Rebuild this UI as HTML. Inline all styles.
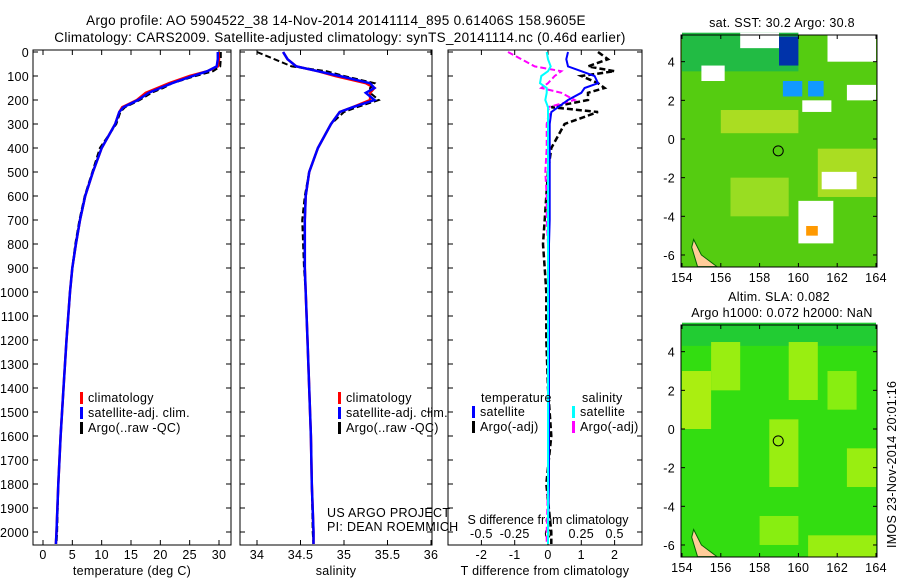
<!DOCTYPE html>
<html><head><meta charset="utf-8"><style>
body{margin:0;background:#fff;}
svg{display:block;font-family:"Liberation Sans",sans-serif;}
text{font-size:12.5px;letter-spacing:0.3px;fill:#000;}
text.ttl{font-size:13.5px;letter-spacing:0.3px;}
</style></head><body>
<svg id="fig" width="900" height="580" viewBox="0 0 900 580">
<text class="ttl" x="336" y="25" text-anchor="middle">Argo profile: AO 5904522_38 14-Nov-2014 20141114_895 0.61406S 158.9605E</text>
<text class="ttl" x="340" y="42" text-anchor="middle">Climatology: CARS2009. Satellite-adjusted climatology: synTS_20141114.nc (0.46d earlier)</text>
<g id="p1"></g>
<g id="p2"></g>
<g id="p3"></g>
<g id="m1"></g>
<g id="m2"></g>
<text x="779" y="301" text-anchor="middle">Altim. SLA: 0.082</text>
<text x="782" y="317" text-anchor="middle">Argo h1000: 0.072 h2000: NaN</text>
<text x="782" y="27" text-anchor="middle">sat. SST: 30.2 Argo: 30.8</text>
<text transform="translate(896,548) rotate(-90)">IMOS 23-Nov-2014 20:01:16</text>
</svg>
<script>
// ---- data ----
const depths = [0,30,60,80,100,130,150,170,200,230,250,300,400,500,600,700,800,900,1000,1200,1400,1600,1800,2000,2050];
const tempClim = [30,30,29.8,28,25,21.5,19.5,17.5,16,13.5,13,12.3,10,8.5,7.2,6.3,5.6,5.0,4.6,4.0,3.5,3.0,2.6,2.3,2.2];
const tempSat  = [29.8,29.8,29.6,28,25.5,22,20,18,16.2,13.7,13,12.3,10,8.5,7.2,6.3,5.6,5.0,4.6,4.0,3.5,3.0,2.6,2.3,2.2];
const tempArgo = [30.3,30.3,30.2,29,26,22,20.5,18.5,16.5,14,13.2,12.5,9.7,8.4,7.1,6.2,5.5,5.0,4.6,4.0,3.5,3.0,2.6,2.4,2.3];
const salClim  = [34.3,34.35,34.45,34.7,34.9,35.25,35.35,35.3,35.3,35.1,34.95,34.85,34.7,34.6,34.56,34.55,34.55,34.55,34.56,34.58,34.6,34.62,34.63,34.65,34.65];
const salSat   = [34.3,34.35,34.45,34.7,34.95,35.3,35.35,35.25,35.35,35.1,34.95,34.85,34.7,34.6,34.56,34.55,34.55,34.55,34.56,34.58,34.6,34.62,34.63,34.65,34.65];
const salArgo  = [34.0,34.2,34.4,34.8,35.0,35.35,35.3,35.3,35.4,35.15,35.0,34.85,34.7,34.6,34.55,34.52,34.53,34.54,34.56,34.58,34.6,34.62,34.63,34.64,34.65];
const tDiffSat  = [0.6,0.55,0.6,1.0,1.4,1.5,1.1,1.0,0.6,0.3,0.1,0.05,0.05,0.05,0.05,0.05,0.03,0.03,0.03,0.03,0.03,0.03,0.03,0.0,0.0];
const tDiffArgo = [1.5,1.8,1.2,2.0,1.0,1.5,1.7,1.2,1.2,0.1,1.5,0.5,0.1,0.0,-0.05,-0.1,-0.15,-0.1,-0.05,-0.05,0.0,0.1,-0.05,0.1,0.1];
const sDiffSat  = [-0.01,0.0,0.02,0.0,-0.05,-0.06,-0.01,-0.01,-0.02,0.0,0.0,0.0,0.0,0.0,0.0,0.0,0.0,0.0,0.0,0.0,0.0,0.0,0.0,0.0,0.0];
const sDiffArgo = [-0.3,-0.2,-0.1,0.1,0.05,0.0,-0.05,0.1,0.2,0.0,0.01,-0.01,-0.01,-0.02,-0.01,-0.01,0.0,0.0,0.0,0.0,0.0,0.0,0.0,-0.01,-0.01];
const depthTicks = [0,100,200,300,400,500,600,700,800,900,1000,1100,1200,1300,1400,1500,1600,1700,1800,1900,2000];
const tempTicks = [0,5,10,15,20,25,30];
const salTicks = [34,34.5,35,35.5,36];
const tdTicks = [-2,-1,0,1,2];
const sdTicks = [-0.5,-0.25,0,0.25,0.5];
const lonTicks = [154,156,158,160,162,164];
const latTicks = [4,2,0,-2,-4,-6];
const floatPos = [158.96,-0.614];

const NS='http://www.w3.org/2000/svg';
function mk(p,tag,at){const e=document.createElementNS(NS,tag);for(const k in at)e.setAttribute(k,at[k]);p.appendChild(e);return e;}
const yD = d => 52 + d*0.24;
const TOP=50,BOT=545;

function panel(g,x0,x1,xs,ticks,fmt,label,showY){
  const r=mk(g,'rect',{x:x0,y:TOP,width:x1-x0,height:BOT-TOP,fill:'none',stroke:'#000'});
  
  ticks.forEach(t=>{const x=xs(t);
    mk(g,'line',{x1:x,x2:x,y1:BOT,y2:BOT-5,stroke:'#000'});mk(g,'line',{x1:x,x2:x,y1:TOP,y2:TOP+5,stroke:'#000'});
    if(fmt){const tx=mk(g,'text',{x:x,y:BOT+14,'text-anchor':'middle'});tx.textContent=fmt(t);
    }});
  depthTicks.forEach(d=>{mk(g,'line',{x1:x0,x2:x0+5,y1:yD(d),y2:yD(d),stroke:'#000'});mk(g,'line',{x1:x1,x2:x1-5,y1:yD(d),y2:yD(d),stroke:'#000'});
    if(showY){const tx=mk(g,'text',{x:x0-4,y:yD(d)+5,'text-anchor':'end'});tx.textContent=d;
    }});
  const lb=mk(g,'text',{x:(x0+x1)/2,y:575,'text-anchor':'middle'});lb.textContent=label;
  
}
function line(g,vals,xs,col,dash,w,name){
  const pts=vals.map((v,i)=>xs(v).toFixed(1)+','+yD(depths[i]).toFixed(1)).join(' ');
  const e=mk(g,'polyline',{points:pts,fill:'none',stroke:col,'stroke-width':w});
  if(dash)e.setAttribute('stroke-dasharray',dash);
  
}
function legend(g,x,y,items){
  items.forEach((it,i)=>{const yy=y+i*15;
    mk(g,'rect',{x:x,y:yy-10,width:3,height:12,fill:it[1]});
    const t=mk(g,'text',{x:x+8,y:yy});t.textContent=it[0];
    });
}
// panel 1
const p1=document.getElementById('p1');const xT=t=>43+t*176/30;
panel(p1,33,231,xT,tempTicks,t=>t,'temperature (deg C)',true);
line(p1,tempClim,xT,'#f00',null,2.5,'temp-climatology-line');
line(p1,tempArgo,xT,'#000','6,3',2,'temp-argo-line');
line(p1,tempSat,xT,'#00f',null,2.5,'temp-satellite-line');
legend(p1,80,402,[['climatology','#f00'],['satellite-adj. clim.','#00f'],['Argo(..raw -QC)','#000']]);
// panel 2
const p2=document.getElementById('p2');const xS=s=>257+(s-34)*87;
panel(p2,240,432,xS,salTicks,s=>s,'salinity',false);
line(p2,salClim,xS,'#f00',null,2.5,'sal-climatology-line');
line(p2,salArgo,xS,'#000','6,3',2,'sal-argo-line');
line(p2,salSat,xS,'#00f',null,2.5,'sal-satellite-line');
legend(p2,338,402,[['climatology','#f00'],['satellite-adj. clim.','#00f'],['Argo(..raw -QC)','#000']]);
const a1=mk(p2,'text',{x:327,y:517});a1.textContent='US ARGO PROJECT';
const a2=mk(p2,'text',{x:327,y:531});a2.textContent='PI: DEAN ROEMMICH';
// panel 3
const p3=document.getElementById('p3');const xTD=t=>548+t*33.3;const xSD=s=>548+s*133.2;
panel(p3,448,642,xTD,tdTicks,t=>t,'T difference from climatology',false);
sdTicks.forEach(s=>{const t=mk(p3,'text',{x:xSD(s),y:538,'text-anchor':'middle'});t.textContent=s;
  });
const st=mk(p3,'text',{x:548,y:524,'text-anchor':'middle','style':'letter-spacing:0'});st.textContent='S difference from climatology';

line(p3,tDiffArgo,xTD,'#000','6,3',2.5,'t-diff-argo-line');
line(p3,sDiffArgo,xSD,'#f0f','6,3',2,'s-diff-argo-line');
line(p3,tDiffSat,xTD,'#00f',null,2,'t-diff-satellite-line');
line(p3,sDiffSat,xSD,'#0ff',null,2,'s-diff-satellite-line');
const lt=mk(p3,'text',{x:481,y:402});lt.textContent='temperature';
const ls=mk(p3,'text',{x:582,y:402});ls.textContent='salinity';
legend(p3,472,416,[['satellite','#00f'],['Argo(-adj)','#000']]);
legend(p3,572,416,[['satellite','#0ff'],['Argo(-adj)','#f0f']]);
// maps
function map(g,y0,y1,lat0y,fill,patches){
  const X=l=>682+(l-154)*19.4, Y=l=>lat0y-l*19.33;
  const bg=mk(g,'rect',{x:681,y:y0,width:196,height:y1-y0,fill:fill});
  
  patches.forEach(p=>{mk(g,'rect',{x:X(p[0]),y:Y(p[1]),width:p[2]*19.4,height:p[3]*19.33,fill:p[4]});});
  const land=mk(g,'polygon',{points:[[154.6,-5.2],[155.0,-6.0],[155.8,-6.6],[154.8,-6.6],[154.5,-5.6]].map(p=>X(p[0])+','+Y(p[1])).join(' '),fill:'#fc9',stroke:'#060'});
  
  mk(g,'rect',{x:681,y:y0,width:196,height:y1-y0,fill:'none',stroke:'#000'});
  const c=mk(g,'circle',{cx:X(floatPos[0]),cy:Y(floatPos[1]),r:5,fill:'none',stroke:'#000'});
  
  lonTicks.forEach(l=>{mk(g,'line',{x1:X(l),x2:X(l),y1:y1,y2:y1-4,stroke:'#000'});mk(g,'line',{x1:X(l),x2:X(l),y1:y0,y2:y0+4,stroke:'#000'});
    const t=mk(g,'text',{x:X(l),y:y1+15,'text-anchor':'middle'});t.textContent=l;});
  latTicks.forEach(l=>{mk(g,'line',{x1:681,x2:685,y1:Y(l),y2:Y(l),stroke:'#000'});mk(g,'line',{x1:877,x2:873,y1:Y(l),y2:Y(l),stroke:'#000'});
    const t=mk(g,'text',{x:675,y:Y(l)+5,'text-anchor':'end'});t.textContent=l;});
}
map(document.getElementById('m1'),35,267,139,'#5c1',[
 [154,5.5,6,2,'#2b4'],[159,5.3,1,1.5,'#03a'],[159.2,3,1,0.8,'#19f'],[160.5,3,0.8,0.8,'#19f'],
 [157,5.5,2,0.8,'#fff'],[161.5,5.5,2.5,1.5,'#fff'],[160.2,2,1.5,0.6,'#fff'],[162.5,2.8,1.5,0.8,'#fff'],
 [155,3.8,1.2,0.8,'#fff'],[160,-3.2,1.8,2.2,'#fff'],[160.4,-4.5,0.6,0.5,'#f90'],[156,1.5,4,1.2,'#ad2'],
 [161,-0.5,3,2.5,'#ad2'],[156.5,-2,3,2,'#9d2'],[161.2,-1.7,1.8,0.9,'#fff']]);
map(document.getElementById('m2'),325,557,429,'#3d1',[
 [154,5.5,10,1.2,'#2c3'],[154,3,1.5,3,'#ae1'],[155.5,4.5,1.5,2.5,'#9e1'],[159.5,4.5,1.5,3,'#9e1'],
 [158.5,0.5,1.5,3.5,'#9e1'],[161.5,3,1.5,2,'#8e1'],[162.5,-1,1.5,2,'#9e1'],[158,-4.5,2,1.5,'#8e1'],
 [160.5,-5.5,3.5,1.1,'#9e1']]);
</script>
</body></html>
